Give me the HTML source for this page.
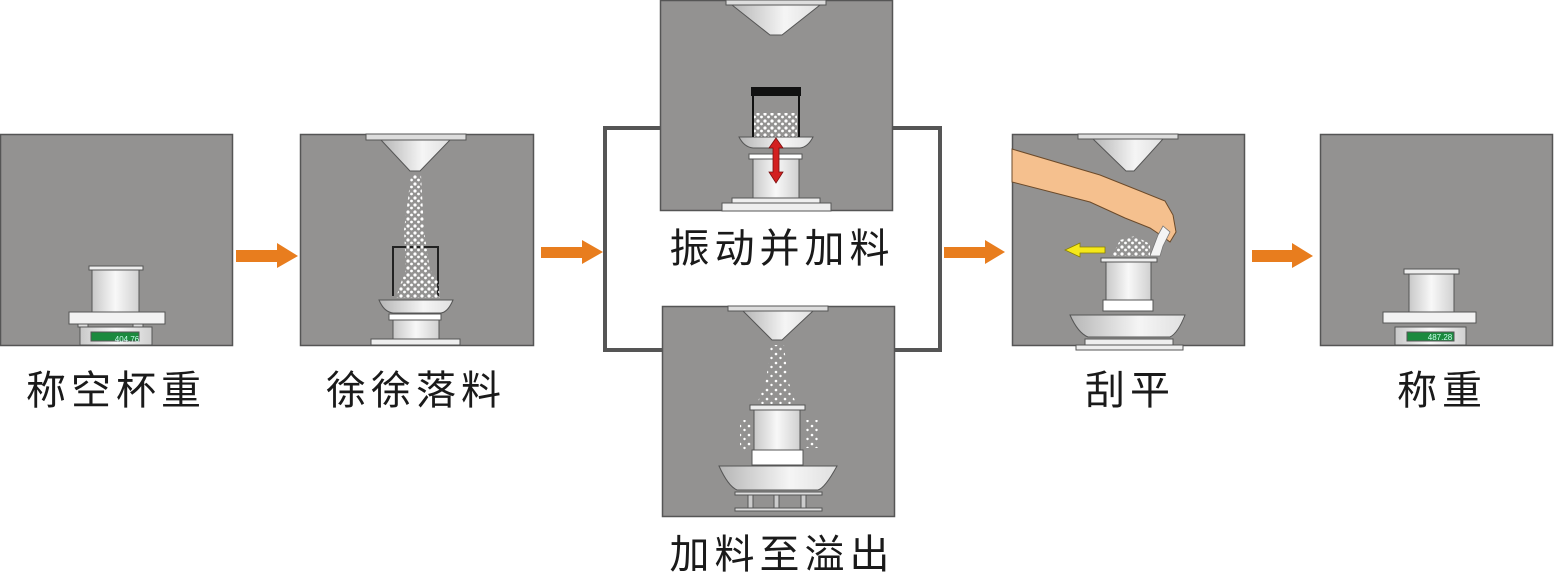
<!DOCTYPE html>
<html><head><meta charset="utf-8"><style>
html,body{margin:0;padding:0;background:#fff;}
svg{display:block}
text{font-family:"Liberation Sans","Noto Sans CJK SC",sans-serif;fill:#1a1a1a;font-size:40px;}
</style></head><body>
<svg width="1554" height="574" viewBox="0 0 1554 574" xmlns="http://www.w3.org/2000/svg">
<defs>
<linearGradient id="g" x1="0" x2="1" y1="0" y2="0"><stop offset="0" stop-color="#c8c8c8"/><stop offset="0.5" stop-color="#f8f8f8"/><stop offset="1" stop-color="#d0d0d0"/></linearGradient>
<linearGradient id="gc" x1="0" x2="1"><stop offset="0" stop-color="#b5b5b5"/><stop offset="0.6" stop-color="#f5f5f5"/><stop offset="1" stop-color="#e0e0e0"/></linearGradient>
<pattern id="dots" width="7" height="7" patternUnits="userSpaceOnUse"><circle cx="2" cy="2" r="1.6" fill="#fff"/><circle cx="5.5" cy="5" r="1.4" fill="#fff"/></pattern>
<pattern id="dots2" width="9" height="9" patternUnits="userSpaceOnUse"><circle cx="2" cy="3" r="1.3" fill="#fff"/><circle cx="6.5" cy="7" r="1.2" fill="#fff"/></pattern>
</defs>
<g stroke="#555" stroke-width="1.5" fill="#939291">
<rect x="0.5" y="134.5" width="232" height="211"/>
<rect x="300.5" y="134.5" width="233" height="211"/>
<rect x="660.5" y="0.5" width="232" height="210"/>
<rect x="662.5" y="306.5" width="232" height="210"/>
<rect x="1012.5" y="134.5" width="232" height="211"/>
<rect x="1320.5" y="134.5" width="232" height="211"/>
</g>
<!-- bracket -->
<path d="M660 128 H605 V350 H662 M893 128 H940 V350 H895" fill="none" stroke="#555" stroke-width="4"/>
<!-- arrows -->
<g fill="#e87d1e">
<path d="M236 250 H277 V243 L298 256 L277 268 V262 H236Z"/>
<path d="M541 247 H582 V240 L603 252 L582 264 V258 H541Z"/>
<path d="M944 247 H985 V240 L1005 252 L985 264 V258 H944Z"/>
<path d="M1252 250 H1292 V243 L1313 256 L1292 268 V262 H1252Z"/>
</g>
<g stroke="#555" stroke-width="1">
<!-- P1 -->
<rect x="89" y="266" width="54" height="4" fill="#eee"/>
<rect x="92" y="270" width="47" height="42" fill="url(#g)"/>
<rect x="69" y="312" width="96" height="12" fill="#f2f2f2"/>
<rect x="78" y="324" width="10" height="3" fill="#ddd"/><rect x="133" y="324" width="10" height="3" fill="#ddd"/>
<rect x="80" y="327" width="72" height="18" fill="url(#g)"/>
<rect x="91" y="332" width="48" height="9" fill="#1b8a3e"/>
<!-- P2 -->
<rect x="366" y="134" width="100" height="6" fill="#ddd"/>
<polygon points="381,140 450,140 420,171 410,171" fill="url(#gc)"/>
<rect x="371" y="339" width="89" height="6" fill="#eee"/>
<rect x="393" y="320" width="46" height="19" fill="url(#g)"/>
<rect x="389" y="314" width="52" height="6" fill="#fff"/>
<path d="M379 300 H453 Q448 312 441 313 H393 Q384 312 379 300Z" fill="url(#gc)"/>
</g>
<polyline points="393,296 393,247 438,247 438,296" fill="none" stroke="#222" stroke-width="2"/>
<polygon points="411,175 421,175 424,230 430,270 438,280 440,298 396,298 400,285 406,270 404,230" fill="url(#dots)"/>
<g stroke="#555" stroke-width="1">
<!-- top middle -->
<rect x="726" y="0" width="100" height="5" fill="#ddd"/>
<polygon points="732,5 820,5 782,35 770,35" fill="url(#gc)"/>
<rect x="722" y="203" width="109" height="8" fill="#eee"/>
<rect x="732" y="198" width="88" height="5" fill="#eee"/>
<rect x="753" y="159" width="46" height="39" fill="url(#g)"/>
<rect x="749" y="154" width="53" height="5" fill="#fff"/>
<path d="M739 137 H813 Q808 147 800 148 H753 Q744 147 739 137Z" fill="url(#gc)"/>
</g>
<rect x="754" y="113" width="43" height="24" fill="url(#dots)"/>
<rect x="751" y="87" width="50" height="9" fill="#111"/>
<path d="M753 96 V137 M799 96 V137" stroke="#111" stroke-width="2"/>
<path d="M776 138 L783 148 H779 V172 H783 L776 183 L769 172 H773 V148 H769Z" fill="#d32020" stroke="#7a1010" stroke-width="0.8"/>
<g stroke="#555" stroke-width="1">
<!-- bottom middle -->
<rect x="728" y="306" width="100" height="5" fill="#ddd"/>
<polygon points="743,311 813,311 782,340 772,340" fill="url(#gc)"/>
<rect x="750" y="405" width="55" height="5" fill="#eee"/>
<rect x="754" y="410" width="46" height="40" fill="url(#g)"/>
<rect x="752" y="450" width="51" height="15" fill="#fff"/>
<path d="M719 466 H837 Q825 488 818 490 H737 Q728 486 719 466Z" fill="url(#gc)"/>
<rect x="735" y="492" width="87" height="3" fill="#ddd"/>
<rect x="735" y="508" width="87" height="3" fill="#ddd"/>
<rect x="748" y="495" width="5" height="13" fill="#ccc"/><rect x="774" y="495" width="5" height="13" fill="#ccc"/><rect x="801" y="495" width="5" height="13" fill="#ccc"/>
</g>
<polygon points="771,345 784,345 788,380 796,404 757,404 766,380" fill="url(#dots2)"/>
<rect x="740" y="420" width="12" height="30" fill="url(#dots2)"/>
<rect x="805" y="420" width="14" height="28" fill="url(#dots2)"/>
<g stroke="#555" stroke-width="1">
<!-- P4 -->
<rect x="1078" y="134" width="100" height="5" fill="#ddd"/>
<polygon points="1093,139 1163,139 1134,171 1126,171" fill="url(#gc)"/>
<rect x="1076" y="345" width="107" height="5" fill="#eee"/>
<rect x="1085" y="339" width="88" height="6" fill="#eee"/>
<path d="M1070 315 H1185 Q1178 333 1170 337 H1088 Q1078 333 1070 315Z" fill="url(#gc)"/>
<rect x="1103" y="300" width="50" height="11" fill="#fff"/>
<rect x="1106" y="262" width="45" height="38" fill="url(#g)"/>
<rect x="1101" y="258" width="56" height="4" fill="#eee"/>
</g>
<polygon points="1112,256 1120,240 1135,236 1150,244 1150,256" fill="url(#dots)"/>
<polygon points="1012,149 1100,175 1165,201 1173,215 1176,232 1170,242 1162,236 1150,228 1125,218 1090,202 1012,182" fill="#f5c08e" stroke="#6b4a2a" stroke-width="1"/>
<polygon points="1150,256 1158,235 1163,226 1170,232 1163,246 1160,256" fill="#f4f4f4" stroke="#777" stroke-width="0.8"/>
<path d="M1105 247 H1080 V243 L1065 250 L1080 257 V253 H1105Z" fill="#f5e81a" stroke="#8a8000" stroke-width="0.8"/>
<g stroke="#555" stroke-width="1">
<!-- P5 -->
<rect x="1404" y="269" width="55" height="5" fill="#eee"/>
<rect x="1409" y="274" width="45" height="38" fill="url(#g)"/>
<rect x="1383" y="312" width="93" height="11" fill="#f2f2f2"/>
<rect x="1395" y="327" width="71" height="18" fill="url(#g)"/>
<rect x="1407" y="332" width="47" height="9" fill="#1b8a3e"/>
</g>
<text x="127" y="342" font-size="8" style="font-size:8px;fill:#cfe" text-anchor="middle">404.76</text>
<text x="1440" y="340" style="font-size:8px;fill:#cfe" text-anchor="middle">487.28</text>
<text x="116" y="404" text-anchor="middle" letter-spacing="5">称空杯重</text>
<text x="416" y="404" text-anchor="middle" letter-spacing="5">徐徐落料</text>
<text x="782" y="262" text-anchor="middle" letter-spacing="5">振动并加料</text>
<text x="782" y="568" text-anchor="middle" letter-spacing="5">加料至溢出</text>
<text x="1130" y="404" text-anchor="middle" letter-spacing="5">刮平</text>
<text x="1442" y="404" text-anchor="middle" letter-spacing="5">称重</text>
</svg>
</body></html>
